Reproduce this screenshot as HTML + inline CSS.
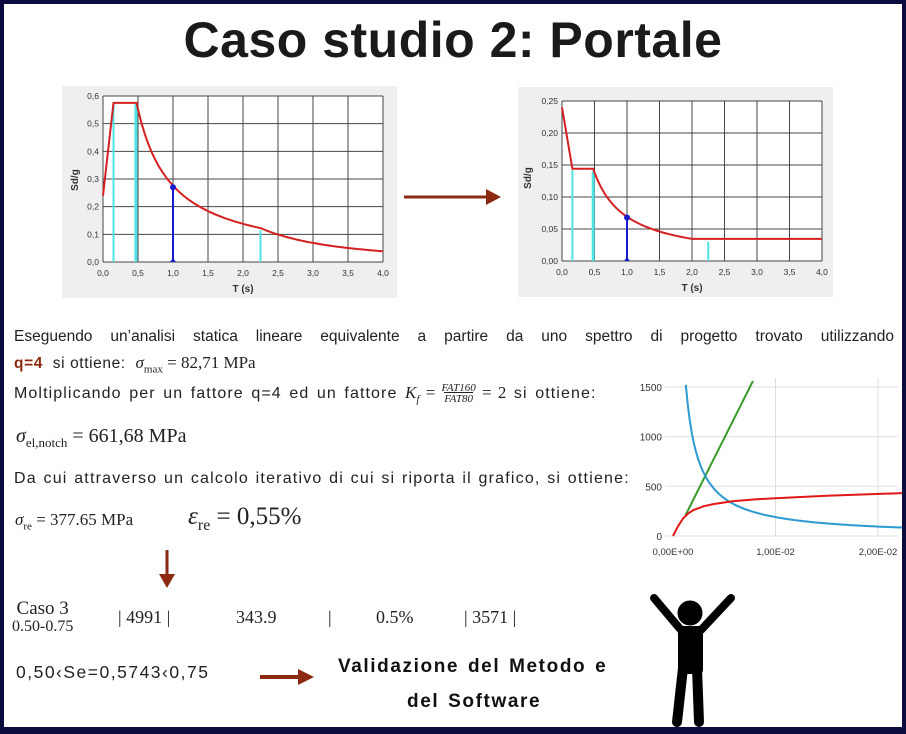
<!DOCTYPE html>
<html><head><meta charset="utf-8"><style>
body{margin:0;background:#0b0b3e;}
#pg{position:absolute;left:4px;top:4px;width:898px;height:723px;background:#fff;overflow:hidden}
.t{position:absolute;font-family:"Liberation Sans",sans-serif;color:#222;white-space:nowrap}
.s{font-family:"Liberation Serif",serif;color:#222}
svg text{font-family:"Liberation Sans",sans-serif}
</style></head><body>
<div id="pg"></div>
<svg id="sv" width="906" height="734" style="position:absolute;left:0;top:0"></svg>
<div class="t" style="left:0;width:906px;text-align:center;top:11px;font-size:50px;font-weight:bold;color:#1a1a1a;letter-spacing:0.5px">Caso studio 2: Portale</div>
<div class="t" style="left:14px;top:328px;font-size:15.5px;width:880px;text-align:justify;text-align-last:justify">Eseguendo un’analisi statica lineare equivalente a partire da uno spettro di progetto trovato utilizzando</div>
<div class="t" style="left:14px;top:353px;font-size:15.5px;letter-spacing:0.6px"><b style="color:#8b2a10">q=4</b>&nbsp; si ottiene: &nbsp;<span class="s" style="font-size:17px;letter-spacing:0"><i>σ</i><sub style="font-size:11px">max</sub> = 82,71 MPa</span></div>
<div class="t" style="left:14px;top:383px;font-size:16px;letter-spacing:1.1px;word-spacing:2px">Moltiplicando per un fattore q=4 ed un fattore <span class="s" style="letter-spacing:0;font-size:17px"><i>K<sub style="font-size:11px">f</sub></i> = <span style="display:inline-block;vertical-align:middle;text-align:center;font-size:11px;line-height:11px"><i>FAT160</i><br><span style="border-top:1px solid #222"><i>FAT80</i></span></span> = 2</span> si ottiene:</div>
<div class="t s" style="left:16px;top:425px;font-size:20px"><i>σ</i><sub style="font-size:13px">el,notch</sub> = 661,68 MPa</div>
<div class="t" style="left:14px;top:470px;font-size:16px;letter-spacing:1.2px;word-spacing:1px">Da cui attraverso un calcolo iterativo di cui si riporta il grafico, si ottiene:</div>
<div class="t s" style="left:15px;top:510px;font-size:17px"><i>σ</i><sub style="font-size:11px">re</sub> = 377.65 MPa</div>
<div class="t s" style="left:188px;top:503px;font-size:25px"><i>ε</i><sub style="font-size:16px">re</sub> = 0,55%</div>
<div class="t s" style="left:12px;top:600px;font-size:19px;line-height:17px;text-align:center">Caso 3<br><span style="font-size:16px">0.50-0.75</span></div>
<div class="t s" style="left:118px;top:607px;font-size:18px">| 4991 |</div>
<div class="t s" style="left:236px;top:607px;font-size:18px">343.9</div>
<div class="t s" style="left:328px;top:607px;font-size:18px">|</div>
<div class="t s" style="left:376px;top:607px;font-size:18px">0.5%</div>
<div class="t s" style="left:464px;top:607px;font-size:18px">| 3571 |</div>
<div class="t" style="left:16px;top:662px;font-size:17.5px;letter-spacing:1.5px">0,50‹Se=0,5743‹0,75</div>
<div class="t" style="left:338px;top:656px;font-size:19px;font-weight:bold;color:#111;letter-spacing:1.6px;word-spacing:2px">Validazione del Metodo e</div>
<div class="t" style="left:407px;top:691px;font-size:19px;font-weight:bold;color:#111;letter-spacing:1.6px;word-spacing:2px">del Software</div>
<script>
var s='';
function L(x1,y1,x2,y2,c,w){s+='<line x1="'+x1+'" y1="'+y1+'" x2="'+x2+'" y2="'+y2+'" stroke="'+c+'" stroke-width="'+w+'"/>';}
function T(x,y,t,sz,a,extra){s+='<text x="'+x+'" y="'+y+'" font-size="'+sz+'" text-anchor="'+(a||'middle')+'" fill="#333" '+(extra||'')+'>'+t+'</text>';}
function P(pts,c,w){s+='<polyline fill="none" stroke="'+c+'" stroke-width="'+w+'" points="'+pts.map(p=>p[0].toFixed(1)+','+p[1].toFixed(1)).join(' ')+'"/>';}
s+='<rect x="62" y="86" width="335" height="212" fill="#efefef"/>';
var x0=103,x1=383,y0=262,y1=96;
s+='<rect x="'+x0+'" y="'+y1+'" width="'+(x1-x0)+'" height="'+(y0-y1)+'" fill="#fff"/>';
for(var i=0;i<=8;i++){var x=x0+i*(x1-x0)/8;L(x,y1,x,y0,'#444',1);T(x,y0+14,(i/2).toFixed(1).replace('.',','),8.5);}
for(var i=0;i<=6;i++){var y=y0-i*(y0-y1)/6;L(x0,y,x1,y,'#444',1);T(x0-4,y+3,(i/10).toFixed(1).replace('.',','),8.5,'end');}
T(243,292,'T (s)',10,'middle','font-weight="bold"');
T(78,180,'Sd/g',10,'middle','font-weight="bold" transform="rotate(-90 78 180)"');
function X1(t){return x0+t*70;} function Y1(v){return y0-v*(y0-y1)/0.6;}
L(X1(0.15),Y1(0),X1(0.15),Y1(0.57),'#4fe3e3',2);L(X1(0.47),Y1(0),X1(0.47),Y1(0.57),'#4fe3e3',3);L(X1(2.25),Y1(0),X1(2.25),Y1(0.115),'#4fe3e3',2);
var p=[[X1(0),Y1(0.24)],[X1(0.15),Y1(0.575)],[X1(0.48),Y1(0.575)]];
for(var t=0.5;t<=4.001;t+=0.05){var v=t<2.25?0.276/t:0.276*2.25/(t*t);p.push([X1(t),Y1(v)]);}
P(p,'#d42020',2);
L(X1(1),Y1(0),X1(1),Y1(0.27),'#1a1acc',2);s+='<circle cx="'+X1(1)+'" cy="'+Y1(0.27)+'" r="3" fill="#1a1acc"/><polygon points="'+(X1(1)-3)+','+y0+' '+(X1(1)+3)+','+y0+' '+X1(1)+','+(y0-4)+'" fill="#1a1acc"/>';
s+='<rect x="518" y="87" width="315" height="210" fill="#efefef"/>';
x0=562;x1=822;y0=261;y1=101;
s+='<rect x="'+x0+'" y="'+y1+'" width="'+(x1-x0)+'" height="'+(y0-y1)+'" fill="#fff"/>';
for(var i=0;i<=8;i++){var x=x0+i*(x1-x0)/8;L(x,y1,x,y0,'#444',1);T(x,y0+14,(i/2).toFixed(1).replace('.',','),8.5);}
for(var i=0;i<=5;i++){var y=y0-i*(y0-y1)/5;L(x0,y,x1,y,'#444',1);T(x0-4,y+3,(i*0.05).toFixed(2).replace('.',','),8.5,'end');}
T(692,291,'T (s)',10,'middle','font-weight="bold"');
T(531,178,'Sd/g',10,'middle','font-weight="bold" transform="rotate(-90 531 178)"');
function X2(t){return x0+t*65;} function Y2(v){return y0-v*(y0-y1)/0.25;}
L(X2(0.16),Y2(0),X2(0.16),Y2(0.142),'#4fe3e3',2);L(X2(0.48),Y2(0),X2(0.48),Y2(0.14),'#4fe3e3',3);L(X2(2.25),Y2(0),X2(2.25),Y2(0.03),'#4fe3e3',2);
p=[[X2(0),Y2(0.24)],[X2(0.16),Y2(0.144)],[X2(0.48),Y2(0.144)]];
for(var t=0.5;t<=2.001;t+=0.05)p.push([X2(t),Y2(0.0691/t)]);p.push([X2(4),Y2(0.0345)]);
P(p,'#d42020',2);
L(X2(1),Y2(0),X2(1),Y2(0.068),'#1a1acc',2);s+='<circle cx="'+X2(1)+'" cy="'+Y2(0.068)+'" r="3" fill="#1a1acc"/><polygon points="'+(X2(1)-3)+','+y0+' '+(X2(1)+3)+','+y0+' '+X2(1)+','+(y0-4)+'" fill="#1a1acc"/>';
var ac='#8b2a10';
L(404,197,488,197,ac,3);s+='<polygon points="486,189 501,197 486,205" fill="'+ac+'"/>';
L(167,550,167,576,ac,3);s+='<polygon points="159,574 175,574 167,588" fill="'+ac+'"/>';
L(260,677,300,677,ac,4);s+='<polygon points="298,669 314,677 298,685" fill="'+ac+'"/>';
var ox=673,oy=536;function X3(e){return ox+e*10250;}function Y3(v){return oy-v*0.0994;}
s+='<clipPath id="c3"><rect x="640" y="378" width="262" height="160"/></clipPath>';
[0,500,1000,1500].forEach(function(v){L(665,Y3(v),898,Y3(v),'#ddd',1);T(662,Y3(v)+4,v,10,'end');});
[0.01,0.02].forEach(function(e){L(X3(e),378,X3(e),536,'#ddd',1);});
T(X3(0),555,'0,00E+00',9.5);T(X3(0.01),555,'1,00E-02',9.5);T(X3(0.02),555,'2,00E-02',9.5);
s+='<g clip-path="url(#c3)">';
P([[X3(0.0012),Y3(205)],[X3(0.0078),Y3(1560)]],'#3a9a28',2);
p=[];for(var e=0.00125;e<=0.0225;e+=0.0002)p.push([X3(e),Y3(1.9/e)]);P(p,'#2a9ad0',2);
P([[0,0],[0.0005,100],[0.001,180],[0.0015,228],[0.002,262],[0.003,300],[0.004,322],[0.0058,350],[0.008,368],[0.01,380],[0.015,405],[0.0225,432]].map(q=>[X3(q[0]),Y3(q[1])]),'#e01818',2);
s+='</g>';
s+='<g fill="#000" stroke="#000" stroke-linecap="round"><circle cx="690" cy="613" r="12"/>';
s+='<line x1="654" y1="598" x2="681" y2="630" stroke-width="8"/><line x1="731" y1="598" x2="701" y2="630" stroke-width="8"/>';
s+='<rect x="678" y="626" width="25" height="48" rx="4" stroke="none"/>';
s+='<line x1="683" y1="668" x2="677" y2="722" stroke-width="10"/><line x1="697" y1="668" x2="699" y2="722" stroke-width="10"/></g>';
document.getElementById('sv').innerHTML=s;
</script>
</body></html>
